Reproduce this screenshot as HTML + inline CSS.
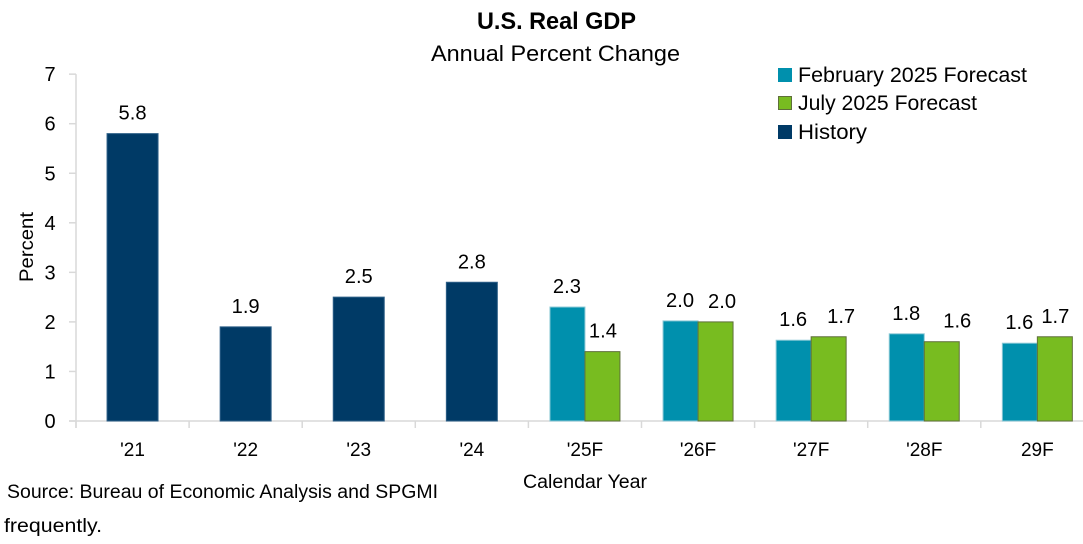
<!DOCTYPE html>
<html lang="en">
<head>
<meta charset="utf-8">
<title>U.S. Real GDP</title>
<style>
html,body{margin:0;padding:0;background:#fff;width:1083px;height:544px;overflow:hidden}
svg{display:block}
text{font-family:"Liberation Sans",sans-serif;fill:#000}
</style>
</head>
<body>
<svg id="chart" width="1083" height="544" viewBox="0 0 1083 544" xmlns="http://www.w3.org/2000/svg">
  <rect x="0" y="0" width="1083" height="544" fill="#ffffff"/>
  <text x="556.5" y="29" text-anchor="middle" font-size="24" font-weight="700" textLength="159" lengthAdjust="spacingAndGlyphs">U.S. Real GDP</text>
  <text x="555.5" y="61" text-anchor="middle" font-size="22" textLength="249" lengthAdjust="spacingAndGlyphs">Annual Percent Change</text>

  <g id="axes"></g>
  <g id="bars"></g>
  <g id="labels"></g>

  <text transform="translate(33,247) rotate(-90)" text-anchor="middle" font-size="19" textLength="70" lengthAdjust="spacingAndGlyphs">Percent</text>
  <text x="585" y="488" text-anchor="middle" font-size="19" textLength="124" lengthAdjust="spacingAndGlyphs">Calendar Year</text>

  <g>
    <rect x="778" y="68" width="14" height="14" fill="#0090ad"/>
    <text x="798" y="82" font-size="21" textLength="229" lengthAdjust="spacingAndGlyphs">February 2025 Forecast</text>
    <rect x="778.5" y="96.5" width="13" height="13" fill="#78bc20" stroke="#5f6f3a" stroke-width="1"/>
    <text x="798" y="110" font-size="21" textLength="179" lengthAdjust="spacingAndGlyphs">July 2025 Forecast</text>
    <rect x="778" y="125" width="14" height="14" fill="#003a66"/>
    <text x="798" y="139" font-size="21" textLength="69" lengthAdjust="spacingAndGlyphs">History</text>
  </g>

  <text x="7" y="498" font-size="19" textLength="431" lengthAdjust="spacingAndGlyphs">Source: Bureau of Economic Analysis and SPGMI</text>
  <text x="4" y="532" font-size="19" textLength="98" lengthAdjust="spacingAndGlyphs">frequently.</text>
</svg>
<script>
const categories = ["'21","'22","'23","'24","'25F","'26F","'27F","'28F","29F"];
const yTickLabels = [0,1,2,3,4,5,6,7];
const historyValues = [5.8,1.9,2.5,2.8,null,null,null,null,null];
const februaryValues = [null,null,null,null,2.3,2.02,1.63,1.76,1.57];
const julyValues = [null,null,null,null,1.4,2.0,1.7,1.6,1.7];
const historyLabels = ["5.8","1.9","2.5","2.8",null,null,null,null,null];
const februaryLabels = [null,null,null,null,"2.3","2.0","1.6","1.8","1.6"];
const julyLabels = [null,null,null,null,"1.4","2.0","1.7","1.6","1.7"];

const NS = 'http://www.w3.org/2000/svg';
const plotLeft = 76, plotBottom = 421, unitHeight = 49.55, catWidth = 113.1;
const xScale = i => plotLeft + catWidth * i;
const xCenter = i => xScale(i) + catWidth / 2;
const yScale = v => plotBottom - v * unitHeight;

function make(parent, tag, attrs, text) {
  const el = document.createElementNS(NS, tag);
  for (const k in attrs) el.setAttribute(k, attrs[k]);
  if (text !== undefined) el.textContent = text;
  parent.appendChild(el);
  return el;
}

const axes = document.getElementById('axes');
const barsG = document.getElementById('bars');
const labelsG = document.getElementById('labels');
const axisColor = '#d9d9d9';

const yLine = make(axes, 'line', {x1: plotLeft, x2: plotLeft, y1: yScale(7), y2: plotBottom + 7, stroke: axisColor, 'stroke-width': 1.5});


const xLine = make(axes, 'line', {x1: plotLeft - 7, x2: 1083, y1: plotBottom, y2: plotBottom, stroke: axisColor, 'stroke-width': 1.5});



yTickLabels.forEach(v => {
  const t = make(axes, 'line', {x1: plotLeft - 7, x2: plotLeft, y1: yScale(v), y2: yScale(v), stroke: axisColor, 'stroke-width': 1.5});
  
  
  const l = make(axes, 'text', {x: 50, y: yScale(v) + 7, 'text-anchor': 'middle', 'font-size': 20}, String(v));
  
  
});

categories.forEach((c, i) => {
  const t = make(axes, 'line', {x1: xScale(i), x2: xScale(i), y1: plotBottom, y2: plotBottom + 7, stroke: axisColor, 'stroke-width': 1.5});
  
  
  const l = make(axes, 'text', {x: xCenter(i), y: 456, 'text-anchor': 'middle', 'font-size': 19}, c);
  
  
});

function drawBar(name, x, w, v, fill, stroke) {
  const y = yScale(v);
  const r = make(barsG, 'rect', {x: x, y: y, width: w, height: plotBottom - y, fill: fill, stroke: stroke, 'stroke-width': 1});
  
  
}

function drawLabel(name, cx, v, text) {
  const l = make(labelsG, 'text', {x: cx, y: yScale(v) - 14, 'text-anchor': 'middle', 'font-size': 20, textLength: 28, lengthAdjust: 'spacingAndGlyphs'}, text);
  
  
}

function julyLabelShift(i) {
  if (i === 5) return 6;
  if (i === 6) return 12;
  if (i === 7) return 15;
  return 0;
}

categories.forEach((c, i) => {
  const cx = xCenter(i);
  if (historyValues[i] !== null) {
    drawBar('bar-history', cx - 25.5, 51, historyValues[i], '#003a66', '#2e6088');
    drawLabel('value-label-history', cx, historyValues[i], historyLabels[i]);
  }
  if (februaryValues[i] !== null) {
    drawBar('bar-february', cx - 35, 35, februaryValues[i], '#0090ad', '#8cc9d6');
    drawLabel('value-label-february', cx - 18, februaryValues[i], februaryLabels[i]);
  }
  if (julyValues[i] !== null) {
    drawBar('bar-july', cx, 35, julyValues[i], '#78bc20', '#5f6f3a');
    drawLabel('value-label-july', cx + 18 + julyLabelShift(i), julyValues[i], julyLabels[i]);
  }
});
</script>
</body>
</html>
